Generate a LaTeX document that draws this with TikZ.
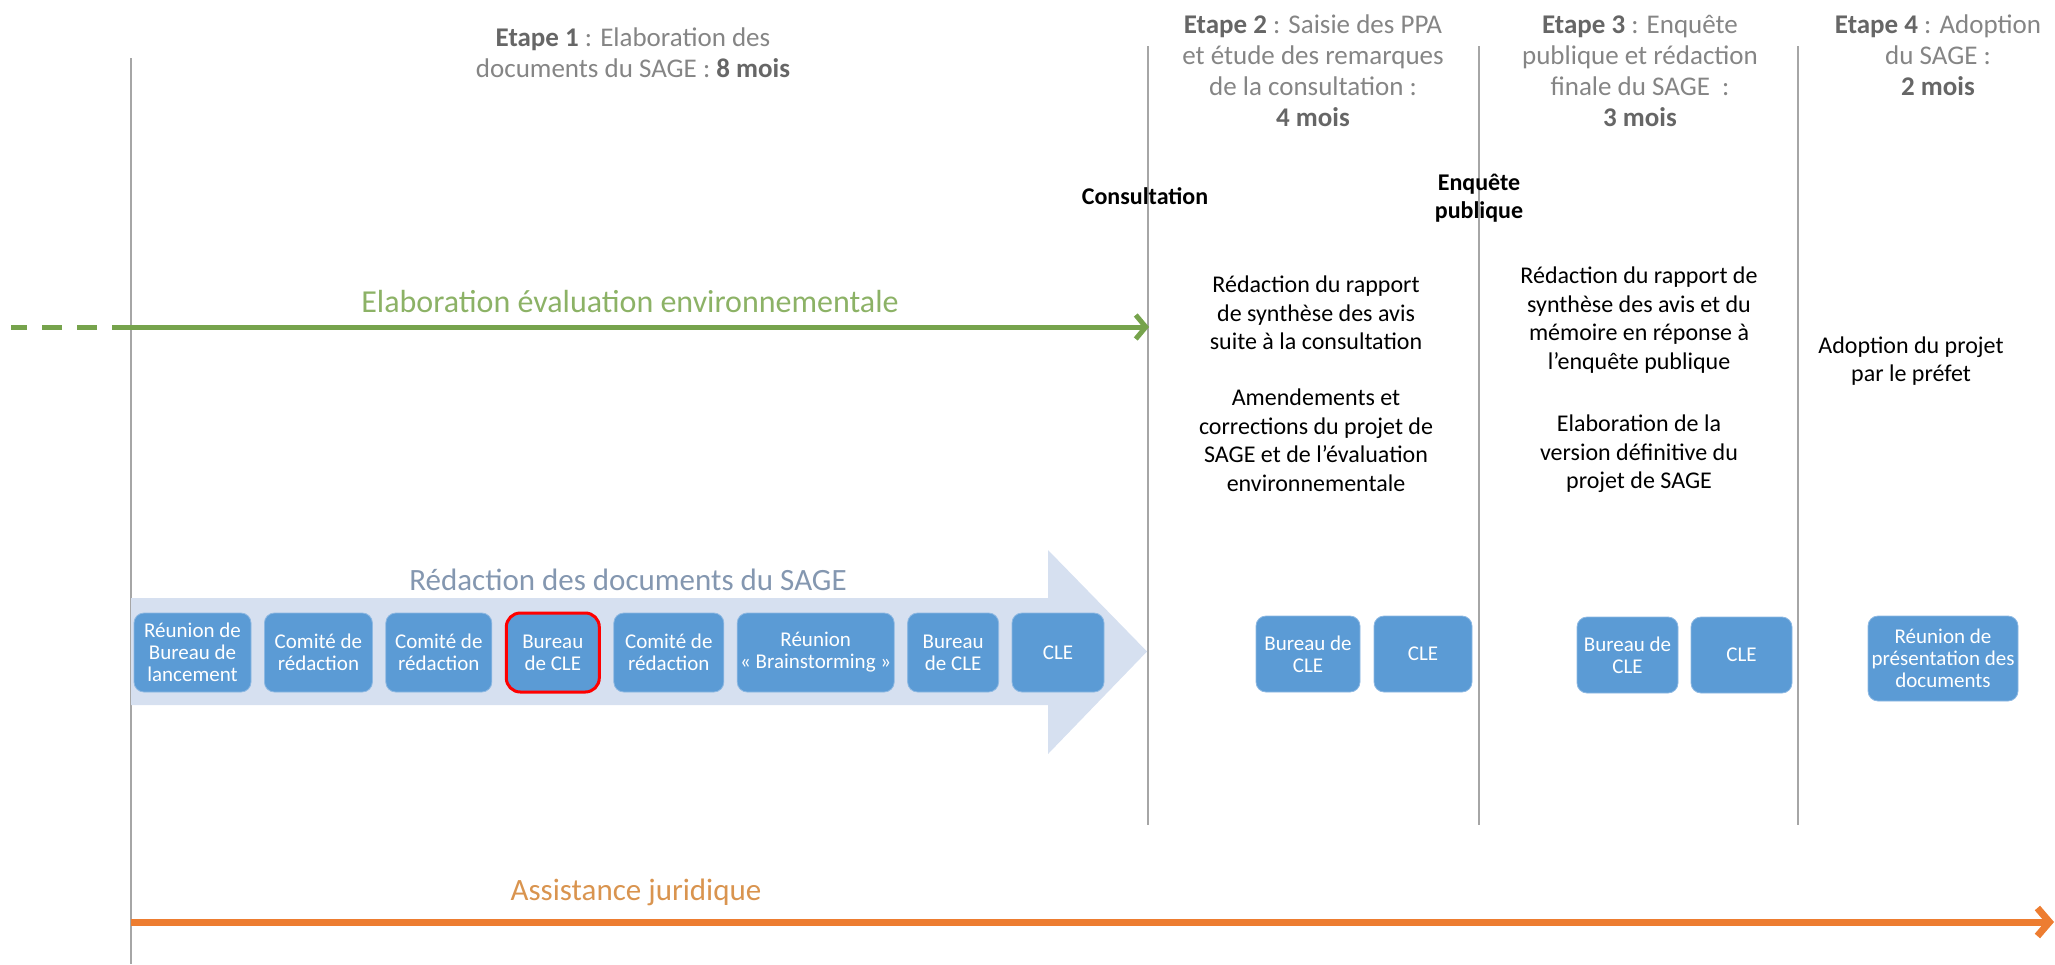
\documentclass[tikz,border=0pt]{standalone}
\usepackage{fontspec}
\setmainfont{Carlito}
\usetikzlibrary{positioning,arrows.meta}

\definecolor{boxblue}{HTML}{5B9BD5}
\definecolor{boxedge}{HTML}{8DB8E2}
\definecolor{bigarrow}{HTML}{D6E0F0}
\definecolor{redactxt}{HTML}{8497B0}
\definecolor{hdrgray}{HTML}{858585}
\definecolor{hdrbold}{HTML}{666666}
\definecolor{sepgray}{HTML}{A6A6A6}
\definecolor{evalgreen}{HTML}{76A34C}
\definecolor{evaltxt}{HTML}{8CB266}
\definecolor{jurorange}{HTML}{ED7D31}
\definecolor{jurtxt}{HTML}{D9944F}

\newcommand\gb[1]{\textbf{\color{hdrbold}#1}}

\begin{document}
\begin{tikzpicture}[x=0.5pt,y=-0.5pt,node distance=6.3pt,
		main/.style = {draw=boxedge, fill=boxblue, rounded corners=5pt, text=white, align=center, inner sep=1pt, minimum height=39.5pt, font=\fontsize{10.5}{11}\selectfont},
		etape/.style = {align=center, text=hdrgray, font=\fontsize{13.5}{15.5}\selectfont},
		tache/.style = {align=center, font=\fontsize{12}{14.25}\selectfont},
		jalon/.style = {align=center, font=\bfseries\fontsize{12}{14}\selectfont},
		sep/.style = {draw=sepgray, line width=0.75pt}]
			\useasboundingbox (0,0) rectangle (2055,964);
			
			\coordinate (s1a) at (131,58);   \coordinate (s1b) at (131,964);
			\coordinate (s2a) at (1148,46);  \coordinate (s2b) at (1148,825);
			\coordinate (s3a) at (1479,46);  \coordinate (s3b) at (1479,825);
			\coordinate (s4a) at (1798,46);  \coordinate (s4b) at (1798,825);
			
			\draw[sep] (s1a)--(s1b);
			\draw[sep] (s2a)--(s2b);
			\draw[sep] (s3a)--(s3b);
			\draw[sep] (s4a)--(s4b);
			
			\node[etape] (e1) at (633,52.5) {\gb{Etape 1} : Elaboration des\\documents du SAGE : \gb{8 mois}};
			\node[etape] (e2) at (1313,71) {\gb{Etape 2} : Saisie des PPA\\et étude des remarques\\de la consultation :\\\gb{4 mois}};
			\node[etape] (e3) at (1640,71) {\gb{Etape 3} : Enquête\\publique et rédaction\\finale du SAGE~ :\\\gb{3 mois}};
			\node[etape] (e4) at (1938,55) {\gb{Etape 4} : Adoption\\du SAGE :\\\gb{2 mois}};
			
			\node[jalon] (consult) at (1145,196) {Consultation};
			\node[jalon] (enquete) at (1479,198) {Enquête\\publique};
			
			\node[tache] (t2a) at (1316,313) {Rédaction du rapport\\de synthèse des avis\\suite à la consultation};
			\node[tache] (t2b) at (1316,440) {Amendements et\\corrections du projet de\\SAGE et de l’évaluation\\environnementale};
			\node[tache] (t3a) at (1639,320) {Rédaction du rapport de\\synthèse des avis et du\\mémoire en réponse à\\l’enquête publique};
			\node[tache] (t3b) at (1639,454) {Elaboration de la\\version définitive du\\projet de SAGE};
			\node[tache] (t4a) at (1911,361) {Adoption du projet\\par le préfet};
			
			% evaluation environnementale
			\coordinate (gd0) at (11,327);
			\coordinate (gd1) at (97,327);
			\coordinate (g0) at (112,327);
			\coordinate (g1) at (1149,327);
			\draw[evalgreen, line width=2.5pt, dash pattern=on 10pt off 7.5pt] (gd1)--(gd0);
			\draw[evalgreen, line width=2.5pt, -{Straight Barb[length=5pt,width=12pt]}] (g0)--(g1);
			\node[text=evaltxt, font=\fontsize{16}{18}\selectfont] (geval) at (630,302) {Elaboration évaluation environnementale};
			
			% redaction
			\fill[bigarrow] (131,598) -- (1048,598) -- (1048,550) -- (1147,651.5) -- (1048,754) -- (1048,705) -- (131,705) -- cycle;
			\node[text=redactxt, font=\fontsize{15.5}{18}\selectfont] (redac) at (628,580) {Rédaction des documents du SAGE};
			
			\node[main, minimum width=58.5pt] (1) at (192.5,652.5) {Réunion de\\Bureau de\\lancement};
			\node[main, minimum width=54pt, right=of 1] (2) {Comité de\\rédaction};
			\node[main, minimum width=53pt, right=of 2] (3) {Comité de\\rédaction};
			\node[main, minimum width=46.5pt, right=of 3, draw=red, line width=1.5pt, rounded corners=7pt] (4) {Bureau\\de CLE};
			\node[main, minimum width=55pt, right=of 4] (5) {Comité de\\rédaction};
			\node[main, minimum width=78.5pt, right=of 5] (6) {Réunion\\« Brainstorming »};
			\node[main, minimum width=45.5pt, right=of 6] (7) {Bureau\\de CLE};
			\node[main, minimum width=46pt, right=of 7] (8) {CLE};
			
			\node[main, minimum width=52pt, minimum height=38pt] (9) at (1308,654) {Bureau de\\CLE};
			\node[main, minimum width=49pt, minimum height=38pt] (10) at (1423,654) {CLE};
			\node[main, minimum width=50.5pt, minimum height=38pt] (11) at (1627.5,655) {Bureau de\\CLE};
			\node[main, minimum width=50.5pt, minimum height=38pt] (12) at (1741.5,655) {CLE};
			\node[main, minimum width=75pt, minimum height=42.5pt] (13) at (1943,658.5) {Réunion de\\présentation des\\documents};
			
			% assistance juridique
			\coordinate (j0) at (131,922);
			\coordinate (j1) at (2054,922);
			\draw[jurorange, line width=3.5pt, -{Straight Barb[length=6pt,width=14pt]}] (j0)--(j1);
			\node[text=jurtxt, font=\fontsize{15.5}{18}\selectfont] (jur) at (636,892) {Assistance juridique};
			
		\end{tikzpicture}
\end{document}
